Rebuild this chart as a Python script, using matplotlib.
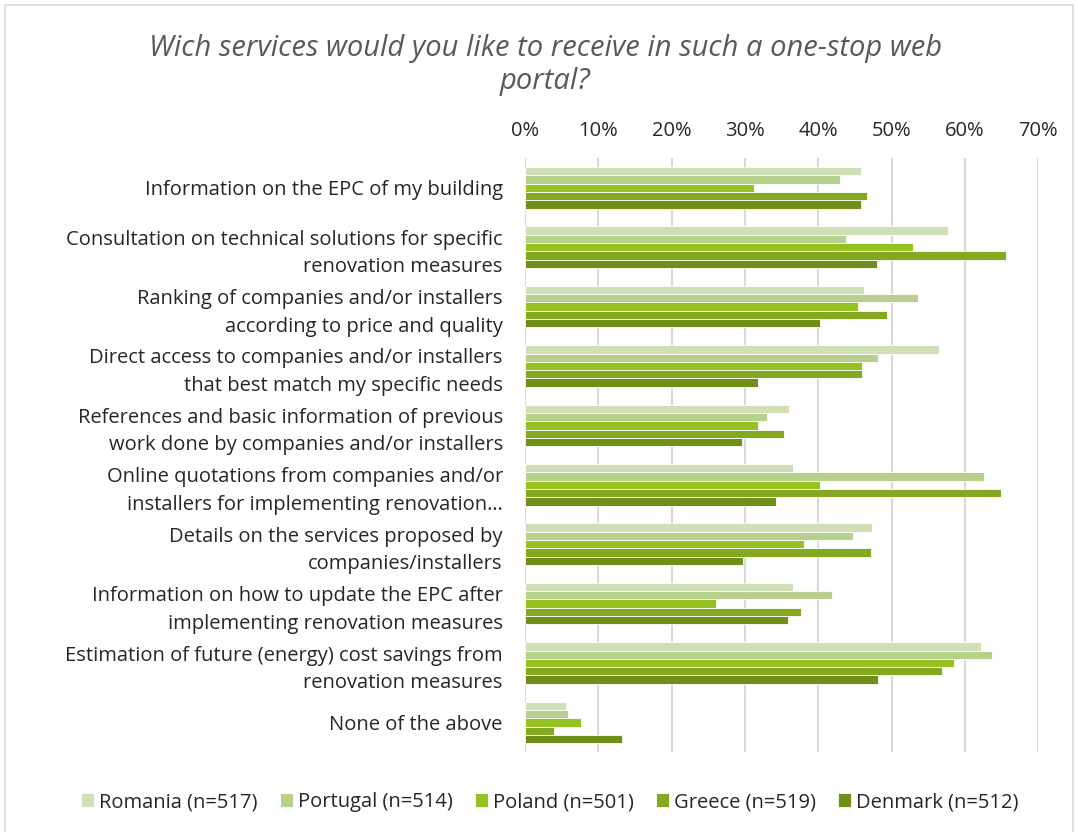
import numpy as np
import matplotlib
matplotlib.use("Agg")
import matplotlib.pyplot as plt
from matplotlib.patches import Rectangle
from matplotlib.ticker import PercentFormatter

plt.rcParams['font.family'] = ['Open Sans', 'DejaVu Sans']

categories = [
    "Information on the EPC of my building",
    "Consultation on technical solutions for specific\nrenovation measures",
    "Ranking of companies and/or installers\naccording to price and quality",
    "Direct access to companies and/or installers\nthat best match my specific needs",
    "References and basic information of previous\nwork done by companies and/or installers",
    "Online quotations from companies and/or\ninstallers for implementing renovation…",
    "Details on the services proposed by\ncompanies/installers",
    "Information on how to update the EPC after\nimplementing renovation measures",
    "Estimation of future (energy) cost savings from\nrenovation measures",
    "None of the above",
]

series_names = ["Romania (n=517)", "Portugal (n=514)", "Poland (n=501)",
                "Greece (n=519)", "Denmark (n=512)"]

romania = [45.8, 57.7, 46.2, 56.5, 36.0, 36.5, 47.4, 36.5, 62.2, 5.6]
portugal = [43.0, 43.8, 53.6, 48.1, 33.0, 62.6, 44.7, 41.9, 63.7, 5.9]
poland = [31.3, 52.9, 45.4, 46.0, 31.8, 40.2, 38.0, 26.0, 58.5, 7.7]
greece = [46.6, 65.6, 49.4, 46.0, 35.4, 64.9, 47.2, 37.6, 56.9, 4.0]
denmark = [45.9, 48.0, 40.2, 31.8, 29.6, 34.3, 29.7, 35.9, 48.2, 13.3]

series = [romania, portugal, poland, greece, denmark]
colors = ["#d0dfb6", "#b7d18c", "#95c123", "#84a820", "#6e9019"]

fig = plt.figure(figsize=(10.78, 8.32), dpi=100)
ax = fig.add_axes([0.487, 0.096, 0.476, 0.714])

n = len(categories)
y = np.arange(n)
h = 0.14
for i, (vals, c, name) in enumerate(zip(series, colors, series_names)):
    offs = (i - 2) * h
    ax.barh(y + offs, np.array(vals) / 100, height=h, color=c,
            edgecolor="white", linewidth=0.6, label=name, zorder=3)

ax.set_ylim(n - 0.5, -0.5)
ax.set_xlim(0, 0.7)
ax.set_xticks(np.arange(0, 0.71, 0.1))
ax.xaxis.set_major_formatter(PercentFormatter(1.0, decimals=0))
ax.xaxis.tick_top()
ax.tick_params(axis="x", length=0, labelsize=14.5, labelcolor="#262626", pad=12)
ax.set_yticks(y)
ax.set_yticklabels(categories, fontsize=14.5, color="#262626", linespacing=1.5)
ax.tick_params(axis="y", length=0, pad=16)
ax.grid(axis="x", color="#d9d9d9", linewidth=1.5, zorder=0)
for s in ax.spines.values():
    s.set_visible(False)

fig.text(0.506, 0.922, "Wich services would you like to receive in such a one-stop web\nportal?",
         ha="center", va="center", fontsize=21, style="italic", color="#595959",
         linespacing=1.2)

fig.legend(loc="center", bbox_to_anchor=(0.51, 0.036), ncol=5, frameon=False,
           fontsize=14.5, handlelength=0.65, handleheight=0.65, handletextpad=0.25,
           columnspacing=1.1, labelcolor="#262626")

fig.patches.append(Rectangle((5 / 1078, -0.05), 1068 / 1078, 1.05 - 5 / 832,
                             transform=fig.transFigure, fill=False,
                             edgecolor="#d9d9d9", linewidth=1.2))

fig.savefig("out.png", dpi=100, facecolor="white")
